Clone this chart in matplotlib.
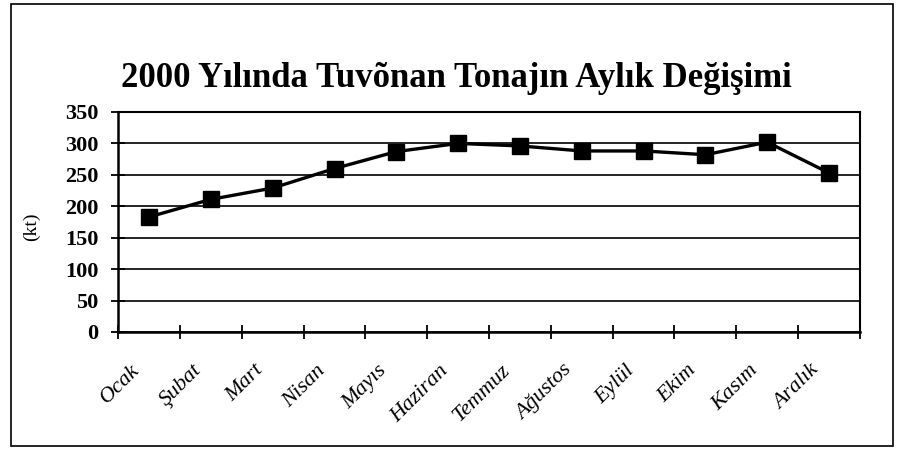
import matplotlib.pyplot as plt
from matplotlib.patches import Rectangle
from matplotlib.transforms import ScaledTranslation
import numpy as np

# --------- DATA ---------
MONTHS = ["Ocak", "Şubat", "Mart", "Nisan", "Mayıs", "Haziran",
          "Temmuz", "Ağustos", "Eylül", "Ekim", "Kasım", "Aralık"]
TONNAGE = [183, 211, 229, 260, 287, 300, 296, 288, 288, 282, 302, 253]
Y_TICKS = [0, 50, 100, 150, 200, 250, 300, 350]
TITLE = "2000 Yılında Tuvõnan Tonajın Aylık Değişimi"
Y_LABEL = "(kt)"
# ------------------------

plt.rcParams["font.family"] = ["Liberation Serif", "DejaVu Serif"]

fig = plt.figure(figsize=(9.09, 4.49), dpi=100)
fig.patch.set_facecolor("white")

# outer chart border
fig.patches.append(Rectangle((0.012, 0.006), 0.97, 0.985, transform=fig.transFigure,
                             fill=False, edgecolor="black", linewidth=1.2))

ax = fig.add_axes([0.130, 0.2606, 0.816, 0.490])
x = np.arange(len(MONTHS))

# horizontal gridlines
for v in Y_TICKS:
    ax.axhline(v, color="black", linewidth=1.2, zorder=1)

ax.plot(x, TONNAGE, color="black", linewidth=2.4, marker="s", markersize=12,
        markerfacecolor="black", markeredgecolor="black", zorder=3)

ax.set_xlim(-0.5, len(MONTHS) - 0.5)
ax.set_ylim(0, 350)
ax.set_yticks(Y_TICKS)
ax.set_yticklabels([str(v) for v in Y_TICKS], fontsize=16, fontweight="bold")
ax.tick_params(axis="y", direction="inout", length=10, width=1.3, pad=9)

# category boundaries as ticks, labels at centres
ax.set_xticks(np.arange(len(MONTHS) + 1) - 0.5, minor=True)
ax.tick_params(axis="x", which="minor", direction="inout", length=10, width=1.3)
ax.set_xticks(x)
ax.set_xticklabels(MONTHS, fontsize=16, style="italic", rotation=45,
                   ha="right", va="top", rotation_mode="anchor")
ax.tick_params(axis="x", which="major", length=0, pad=21)
shift = ScaledTranslation(-19 / 100, 0, fig.dpi_scale_trans)
for lab in ax.get_xticklabels():
    lab.set_transform(lab.get_transform() + shift)

for side in ["left", "bottom"]:
    ax.spines[side].set_linewidth(1.8)
for side in ["top", "right"]:
    ax.spines[side].set_linewidth(1.5)

ax.set_ylabel(Y_LABEL, fontsize=14)
ax.yaxis.set_label_coords(-0.105, 0.48)

fig.text(0.502, 0.806, TITLE, ha="center", va="baseline",
         fontsize=25, fontweight="bold")

fig.savefig("out.png", dpi=100)
